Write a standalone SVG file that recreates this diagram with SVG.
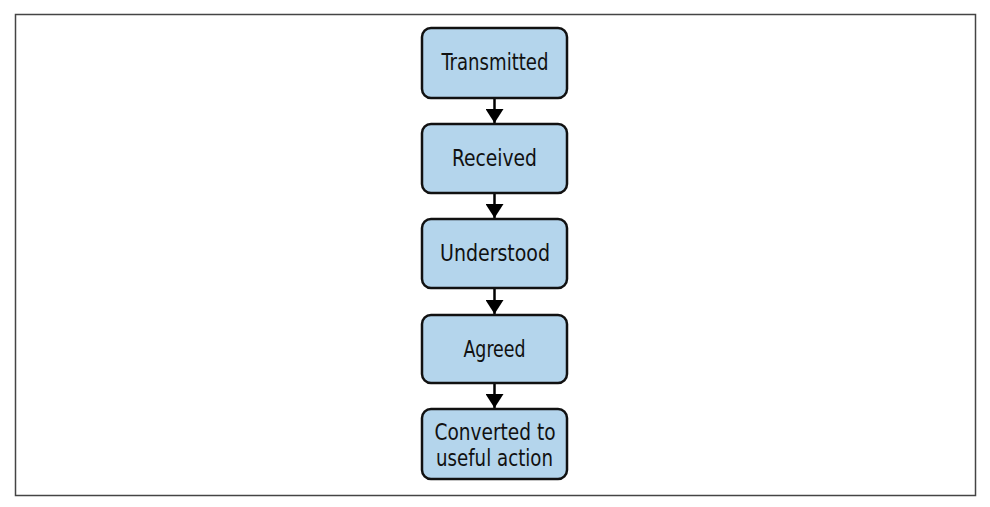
<svg xmlns="http://www.w3.org/2000/svg" width="990" height="507" viewBox="0 0 990 507">
<defs>
<marker id="ah" viewBox="0 0 10 10" refX="10" refY="5" markerWidth="14" markerHeight="18" markerUnits="userSpaceOnUse" orient="auto" preserveAspectRatio="none">
<path d="M0,0 L10,5 L0,10 z" fill="#000"/>
</marker>
</defs>
<style>
.box{fill:#b4d5ec;stroke:#111;stroke-width:2.5}
.lbl{font-family:"DejaVu Sans Condensed","DejaVu Sans",sans-serif;font-stretch:condensed;font-size:23px;fill:#111;text-anchor:middle;dominant-baseline:central}
.conn{stroke:#000;stroke-width:2.5;fill:none}
</style>
<rect x="15.5" y="14.5" width="960" height="481" fill="#fff" stroke="#444" stroke-width="1.5"/>
<g id="connectors">
<line class="conn" x1="494.5" y1="98" x2="494.5" y2="123" marker-end="url(#ah)"/>
<line class="conn" x1="494.5" y1="193" x2="494.5" y2="218" marker-end="url(#ah)"/>
<line class="conn" x1="494.5" y1="288" x2="494.5" y2="314" marker-end="url(#ah)"/>
<line class="conn" x1="494.5" y1="383" x2="494.5" y2="408" marker-end="url(#ah)"/>
</g>
<g id="transmitted">
<rect class="box" x="422" y="28" width="145" height="70" rx="9"/>
<text class="lbl" x="495" y="62" textLength="107" lengthAdjust="spacingAndGlyphs">Transmitted</text>
</g>
<g id="received">
<rect class="box" x="422" y="124" width="145" height="69" rx="9"/>
<text class="lbl" x="494.5" y="158" textLength="85" lengthAdjust="spacingAndGlyphs">Received</text>
</g>
<g id="understood">
<rect class="box" x="422" y="219" width="145" height="69" rx="9"/>
<text class="lbl" x="495" y="253" textLength="110" lengthAdjust="spacingAndGlyphs">Understood</text>
</g>
<g id="agreed">
<rect class="box" x="422" y="315" width="145" height="68" rx="9"/>
<text class="lbl" x="494.5" y="349" textLength="62" lengthAdjust="spacingAndGlyphs">Agreed</text>
</g>
<g id="converted">
<rect class="box" x="422" y="409" width="145" height="70" rx="9"/>
<text class="lbl" x="495" y="432" textLength="121" lengthAdjust="spacingAndGlyphs">Converted to</text>
<text class="lbl" x="494.5" y="458" textLength="117" lengthAdjust="spacingAndGlyphs">useful action</text>
</g>
</svg>
